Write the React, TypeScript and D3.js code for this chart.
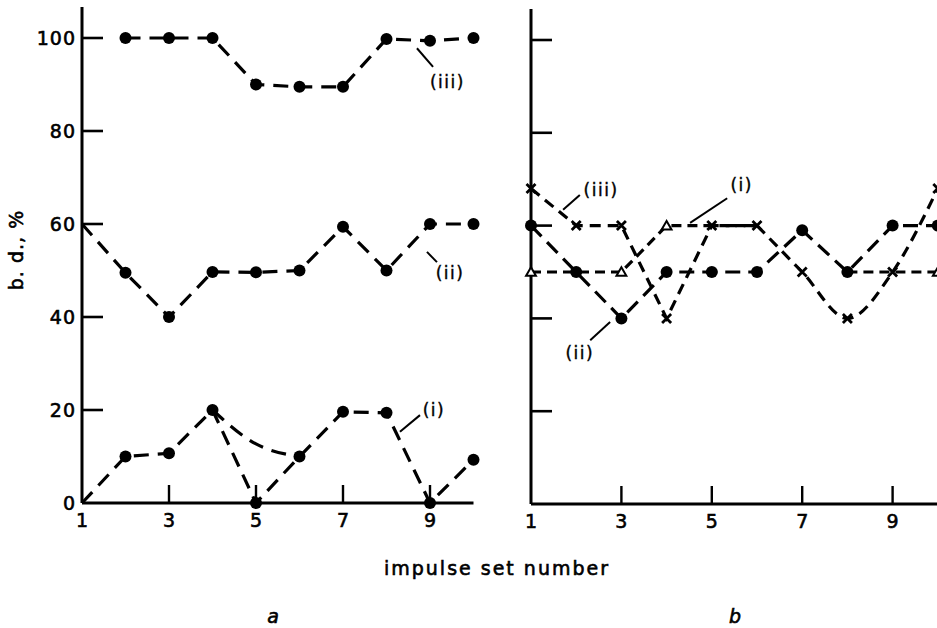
import React from "react";
import * as d3 from "d3";

const W = 937;
const H = 628;

const setNumbers = [1, 2, 3, 4, 5, 6, 7, 8, 9, 10];
const xTickValues = [3, 5, 7, 9];
const xLabelValues = [1, 3, 5, 7, 9];
const yTickValues = [0, 20, 40, 60, 80, 100];

// panel a, all series drawn with filled circles
const aI = [0, 10, 10.7, 20, 0, 10, 19.6, 19.4, 0, 9.3];
const aIAltSets = [4, 5, 6];
const aIAlt = [20, 12.7, 10];
const aII = [60, 49.5, 40, 49.7, 49.6, 50, 59.4, 50, 60, 60];
const aIII: (number | null)[] = [null, 100, 100, 100, 90, 89.5, 89.5, 99.8, 99.4, 100];

// panel b: (i) triangles, (ii) filled circles, (iii) crosses
const bI: (number | null)[] = [50, 50, 50, 60, 60, 60, null, 50, 50, 50];
const bII = [60, 50, 40, 50, 50, 50, 59, 50, 60, 60];
const bIII = [68, 60, 60, 40, 60, 60, 50, 40, 50, 68];
const bIIISmoothFrom = 6;

// label annotations in data units: [leader from x, v, leader to x, v, text x, v]
const aNotes = [
  { text: "(iii)", at: [8.7, 97.8, 9.07, 93.8, 9.4, 90.5] },
  { text: "(ii)", at: [8.93, 54, 9.16, 51.8, 9.46, 49.5] },
  { text: "(i)", at: [8.31, 15.3, 8.77, 18.9, 9.09, 20] },
];
const bNotes = [
  { text: "(iii)", at: [1.71, 63.4, 2.08, 66.6, 2.55, 67.7] },
  { text: "(i)", at: [4.52, 60.6, 5.34, 65.9, 5.66, 68.8] },
  { text: "(ii)", at: [2.31, 35.3, 2.75, 39.2, 2.08, 32.5] },
];

const font = "'DejaVu Sans', sans-serif";
// slight outline to get the heavier print look
const ink = { fill: "#000", stroke: "#000", strokeWidth: 0.6 };

type Pt = { x: number; v: number | null };
const pts = (vals: (number | null)[], xs = setNumbers): Pt[] =>
  vals.map((v, i) => ({ x: xs[i], v }));

function Marker({ kind, x, y }: { kind: string; x: number; y: number }) {
  if (kind === "dot") return <circle cx={x} cy={y} r={6} fill="#000" />;
  if (kind === "cross")
    return (
      <path
        d={`M${x - 4.5},${y - 4.5}L${x + 4.5},${y + 4.5}M${x - 4.5},${y + 4.5}L${x + 4.5},${y - 4.5}`}
        stroke="#000"
        strokeWidth={2.8}
      />
    );
  return (
    <path
      d={d3.symbol(d3.symbolTriangle, 42)() as string}
      transform={`translate(${x},${y + 1})`}
      fill="#fff"
      stroke="#000"
      strokeWidth={2}
    />
  );
}

function Panel({
  xs,
  ys,
  showYLabels,
  series,
  notes,
}: {
  xs: d3.ScaleLinear<number, number>;
  ys: d3.ScaleLinear<number, number>;
  showYLabels: boolean;
  series: { data: Pt[]; curve?: d3.CurveFactory; dash: string; marker?: string; skip?: (d: Pt) => boolean }[];
  notes: { text: string; at: number[] }[];
}) {
  const [x0, x1] = xs.range();
  const yTop = ys(100) - 31;
  return (
    <g>
      {series.map((s, i) => {
        const line = d3
          .line<Pt>()
          .defined((d) => d.v != null)
          .x((d) => xs(d.x))
          .y((d) => ys(d.v as number))
          .curve(s.curve || d3.curveLinear);
        return (
          <path key={"l" + i} d={line(s.data) || ""} fill="none" stroke="#000" strokeWidth={3.2} strokeDasharray={s.dash} />
        );
      })}
      {/* axes */}
      <line x1={x0} y1={yTop} x2={x0} y2={ys(0)} stroke="#000" strokeWidth={3} />
      <line x1={x0} y1={ys(0)} x2={Math.min(x1, W)} y2={ys(0)} stroke="#000" strokeWidth={3} />
      {yTickValues.slice(1).map((t) => (
        <line key={"yt" + t} x1={x0} x2={x0 + 21} y1={ys(t)} y2={ys(t)} stroke="#000" strokeWidth={2.6} />
      ))}
      {xTickValues.map((t) => (
        <line key={"xt" + t} x1={xs(t)} x2={xs(t)} y1={ys(0)} y2={ys(0) - 18} stroke="#000" strokeWidth={2.4} />
      ))}
      {showYLabels &&
        yTickValues.map((t) => (
          <text key={"yl" + t} x={x0 - 6} y={ys(t)} textAnchor="end" dominantBaseline="central" fontSize={19} letterSpacing={1} fontFamily={font} {...ink}>
            {t}
          </text>
        ))}
      {xLabelValues.map((t) => (
        <text key={"xl" + t} x={xs(t)} y={ys(0) + 17} textAnchor="middle" dominantBaseline="central" fontSize={19} fontFamily={font} {...ink}>
          {t}
        </text>
      ))}
      {series.map((s, i) =>
        s.marker
          ? s.data
              .filter((d) => d.v != null && !(s.skip && s.skip(d)))
              .map((d, j) => <Marker key={`m${i}-${j}`} kind={s.marker as string} x={xs(d.x)} y={ys(d.v as number)} />)
          : null
      )}
      {notes.map((n) => (
        <g key={n.text}>
          <line x1={xs(n.at[0])} y1={ys(n.at[1])} x2={xs(n.at[2])} y2={ys(n.at[3])} stroke="#000" strokeWidth={2} />
          <text x={xs(n.at[4])} y={ys(n.at[5])} textAnchor="middle" dominantBaseline="central" fontSize={17} letterSpacing={1.5} fontFamily={font} {...ink} strokeWidth={0.4}>
            {n.text}
          </text>
        </g>
      ))}
    </g>
  );
}

export default function App() {
  const xa = d3.scaleLinear().domain([1, 10]).range([82, 82 + 9 * 43.5]);
  const ya = d3.scaleLinear().domain([0, 100]).range([503, 38]);
  const xb = d3.scaleLinear().domain([1, 10]).range([531, 531 + 9 * 45.2]);
  const yb = d3.scaleLinear().domain([0, 100]).range([504, 40]);

  const onAxis = (d: Pt) => d.x === 1;
  const bIPts = pts(bI);
  const hiddenTriangle = (d: Pt) => {
    const i = d.x - 1;
    return Math.abs((bII[i] as number) - (d.v as number)) < 1.5 || Math.abs(bIII[i] - (d.v as number)) < 1.5;
  };
  const s = bIIISmoothFrom - 1;

  return (
    <svg width={W} height={H} style={{ position: "absolute", left: 0, top: 0, background: "#fff" }}>
      <Panel
        xs={xa}
        ys={ya}
        showYLabels
        series={[
          { data: pts(aI), dash: "15,9", marker: "dot", skip: onAxis },
          { data: pts(aIAlt, aIAltSets), dash: "15,9", curve: d3.curveNatural },
          { data: pts(aII), dash: "15,9", marker: "dot", skip: onAxis },
          { data: pts(aIII), dash: "15,9", marker: "dot", skip: onAxis },
        ]}
        notes={aNotes}
      />
      <Panel
        xs={xb}
        ys={yb}
        showYLabels={false}
        series={[
          { data: bIPts, dash: "10,6", marker: "tri", skip: hiddenTriangle },
          { data: pts(bII), dash: "15,8", marker: "dot" },
          { data: pts(bIII).slice(0, s + 1), dash: "11,7" },
          { data: pts(bIII).slice(s), dash: "11,7", curve: d3.curveMonotoneX },
          { data: pts(bIII), dash: "0,1000", marker: "cross" },
        ]}
        notes={bNotes}
      />
      <text x={497} y={568} textAnchor="middle" dominantBaseline="central" fontSize={19} letterSpacing={2} fontFamily={font} {...ink}>
        impulse set number
      </text>
      <text x={273} y={616} textAnchor="middle" dominantBaseline="central" fontSize={19} fontStyle="italic" fontFamily={font} {...ink}>
        a
      </text>
      <text x={735} y={616} textAnchor="middle" dominantBaseline="central" fontSize={19} fontStyle="italic" fontFamily={font} {...ink}>
        b
      </text>
      <text
        transform="translate(16,250) rotate(-90)"
        textAnchor="middle"
        dominantBaseline="central"
        fontSize={19}
        letterSpacing={1}
        fontFamily={font}
        {...ink}
      >
        b. d., %
      </text>
    </svg>
  );
}
